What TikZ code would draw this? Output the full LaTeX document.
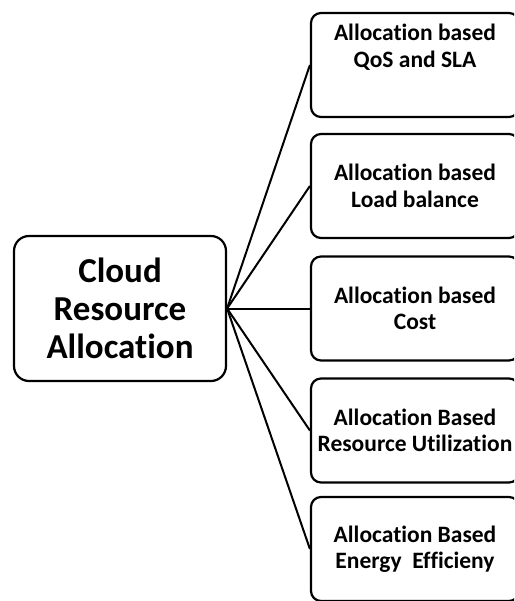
\documentclass[tikz,border=0pt]{standalone}
\usepackage{fontspec}
\setmainfont{Carlito}[Ligatures=NoCommon]
\begin{document}
\begin{tikzpicture}[x=1pt,y=-1pt,
  rootbox/.style={draw, line width=2.2pt, rounded corners=15pt, align=center,
    minimum width=212pt, minimum height=145pt, inner sep=0pt,
    font=\bfseries\fontsize{35}{38}\selectfont},
  leafbox/.style={draw, line width=2.2pt, rounded corners=10pt, align=center,
    minimum width=208pt, minimum height=104pt, inner sep=0pt,
    font=\bfseries\fontsize{23.5}{26.5}\selectfont},
  leaftext/.style={align=center, inner sep=0pt,
    font=\bfseries\fontsize{23.5}{26.5}\selectfont},
  link/.style={line width=2pt}]
\useasboundingbox (0,0) rectangle (514,601);
\clip (0,0) rectangle (514,601);

% central node
\node[rootbox] (root) at (120,308.5) {Cloud\\Resource\\Allocation};

% branches
\node[leafbox] (b1) at (415,65) {};
\node[leaftext] (t1) at ([yshift=18pt]b1.center) {Allocation based\\QoS and SLA};
\node[leafbox] (b2) at (415,186) {Allocation based\\Load balance};
\node[leafbox] (b3) at (415,308.5) {Allocation based\\Cost};
\node[leafbox] (b4) at (415,430.5) {Allocation Based\\Resource Utilization};
\node[leafbox] (b5) at (415,549) {Allocation Based\\Energy~ Efficieny};

% connectors
\foreach \b in {b1,b2,b3,b4,b5}
  \draw[link] (root.east) -- (\b.west);
\end{tikzpicture}
\end{document}
